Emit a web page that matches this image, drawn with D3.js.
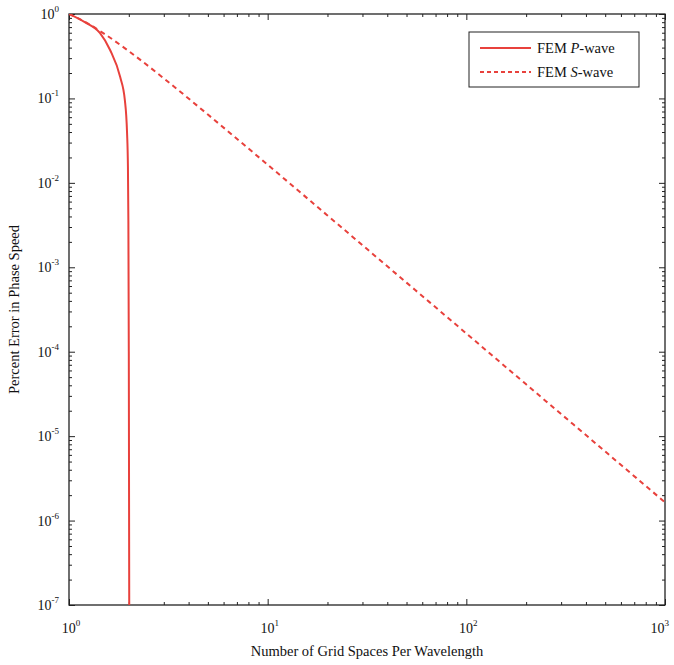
<!DOCTYPE html>
<html>
<head>
<meta charset="utf-8">
<script src="https://cdn.jsdelivr.net/npm/d3@7"></script>
<style>
  body { margin: 0; background: #fff; }
  text { font-family: "Liberation Serif", "DejaVu Serif", serif; fill: #111; }
</style>
</head>
<body>
<div id="chart"></div>
<script>
// values
let xDecades = [0, 1, 2, 3];
let yDecades = [0, -1, -2, -3, -4, -5, -6, -7];

let pWaveX = [1, 1.2, 1.43, 1.61, 1.81, 1.91, 1.96, 1.98, 1.99, 2.0, 2.01];
let pWaveY = [1, 0.8, 0.596, 0.375, 0.179, 0.096, 0.039, 0.0154, 0.0036, 1e-4, 1e-7];

let sWaveX = [1, 1.1, 1.2, 1.5, 2, 3, 5, 10, 20, 50, 100, 200, 500, 1000];
let sWaveY = [1, 0.901, 0.809, 0.586, 0.363, 0.173, 0.0645, 0.0164, 0.00411, 6.58e-4, 1.645e-4, 4.11e-5, 6.58e-6, 1.645e-6];

let seriesNames = [["FEM ", "P", "-wave"], ["FEM ", "S", "-wave"]];

let margin = {top: 14, right: 9, bottom: 60, left: 69};
let width = 674 - margin.left - margin.right;
let height = 665 - margin.top - margin.bottom;
let red = "#e8413c";

let svg = d3.select("#chart")
    .append("svg")
        .attr("width", 674)
        .attr("height", 665)
    .append("g")
        .attr("transform", "translate(" + margin.left + "," + margin.top + ")");

let xScale = d3.scaleLog().domain([1, 1000]).range([0, width]);
let yScale = d3.scaleLog().domain([1e-7, 1]).range([height, 0]);

svg.append("clipPath").attr("id", "plot-clip")
    .append("rect").attr("width", width).attr("height", height);

// minor tick values
function minors(lo, hi){
    let out = [];
    for (let e = lo; e < hi; e++){
        for (let m = 2; m <= 9; m++) out.push(m * Math.pow(10, e));
    }
    return out;
}
let xMajor = xDecades.map(e => Math.pow(10, e));
let yMajor = yDecades.map(e => Math.pow(10, e));

function drawTicks(axisFn, scale, values, size, transform){
    svg.append("g")
        .attr("transform", transform)
        .call(axisFn(scale).tickValues(values).tickSize(-size).tickFormat(""))
        .call(g => g.select(".domain").remove())
        .call(g => g.selectAll("line").attr("stroke", "#222").attr("stroke-width", 1));
}

drawTicks(d3.axisBottom, xScale, xMajor, 6, "translate(0," + height + ")");
drawTicks(d3.axisBottom, xScale, minors(0, 3), 3, "translate(0," + height + ")");
drawTicks(d3.axisTop, xScale, xMajor, 6, "translate(0,0)");
drawTicks(d3.axisTop, xScale, minors(0, 3), 3, "translate(0,0)");
drawTicks(d3.axisLeft, yScale, yMajor, 6, "translate(0,0)");
drawTicks(d3.axisLeft, yScale, minors(-7, 0), 3, "translate(0,0)");
drawTicks(d3.axisRight, yScale, yMajor, 6, "translate(" + width + ",0)");
drawTicks(d3.axisRight, yScale, minors(-7, 0), 3, "translate(" + width + ",0)");

// frame
svg.append("rect")
    .attr("width", width)
    .attr("height", height)
    .attr("fill", "none")
    .attr("stroke", "#222")
    .attr("stroke-width", 1.3);

// tick labels
function powerLabel(sel, e){
    sel.append("tspan").text("10");
    sel.append("tspan").text(e).attr("font-size", 9).attr("dy", -7);
}

xDecades.forEach(e => {
    let last = e == xDecades[xDecades.length - 1];
    let t = svg.append("text")
        .attr("x", last ? width + 4 : xScale(Math.pow(10, e)) + 2)
        .attr("y", height + 28)
        .attr("text-anchor", last ? "end" : "middle")
        .attr("font-size", 14);
    powerLabel(t, e);
});

yDecades.forEach(e => {
    let t = svg.append("text")
        .attr("x", -10)
        .attr("y", yScale(Math.pow(10, e)) + 5)
        .attr("text-anchor", "end")
        .attr("font-size", 14);
    powerLabel(t, e);
});

// axis titles
svg.append("text")
    .attr("x", width / 2)
    .attr("y", height + 51)
    .attr("text-anchor", "middle")
    .attr("font-size", 14.5)
    .text("Number of Grid Spaces Per Wavelength");

svg.append("text")
    .attr("transform", "translate(" + (-50) + "," + (height / 2) + ") rotate(-90)")
    .attr("text-anchor", "middle")
    .attr("font-size", 14.5)
    .text("Percent Error in Phase Speed");

// curves
let line = d3.line()
    .x(d => xScale(d[0]))
    .y(d => yScale(d[1]))
    .curve(d3.curveMonotoneX);

let plot = svg.append("g").attr("clip-path", "url(#plot-clip)");

plot.append("path")
    .datum(sWaveX.map((x, i) => [x, sWaveY[i]]))
    .attr("d", line)
    .attr("fill", "none")
    .attr("stroke", red)
    .attr("stroke-width", 2)
    .attr("stroke-dasharray", "5,4");

plot.append("path")
    .datum(pWaveX.map((x, i) => [x, pWaveY[i]]))
    .attr("d", line)
    .attr("fill", "none")
    .attr("stroke", red)
    .attr("stroke-width", 2);

// legend
let legend = svg.append("g").attr("transform", "translate(" + (width - 196) + ",18)");
legend.append("rect")
    .attr("width", 170)
    .attr("height", 55)
    .attr("fill", "#fff")
    .attr("stroke", "#222")
    .attr("stroke-width", 1);

seriesNames.forEach((name, i) => {
    let y = 16 + i * 24;
    legend.append("line")
        .attr("x1", 11).attr("x2", 62)
        .attr("y1", y).attr("y2", y)
        .attr("stroke", red)
        .attr("stroke-width", 2)
        .attr("stroke-dasharray", i == 1 ? "4,3" : null);
    let t = legend.append("text")
        .attr("x", 68)
        .attr("y", y + 5)
        .attr("font-size", 14.5);
    t.append("tspan").text(name[0]);
    t.append("tspan").text(name[1]).attr("font-style", "italic");
    t.append("tspan").text(name[2]);
});
</script>
</body>
</html>
